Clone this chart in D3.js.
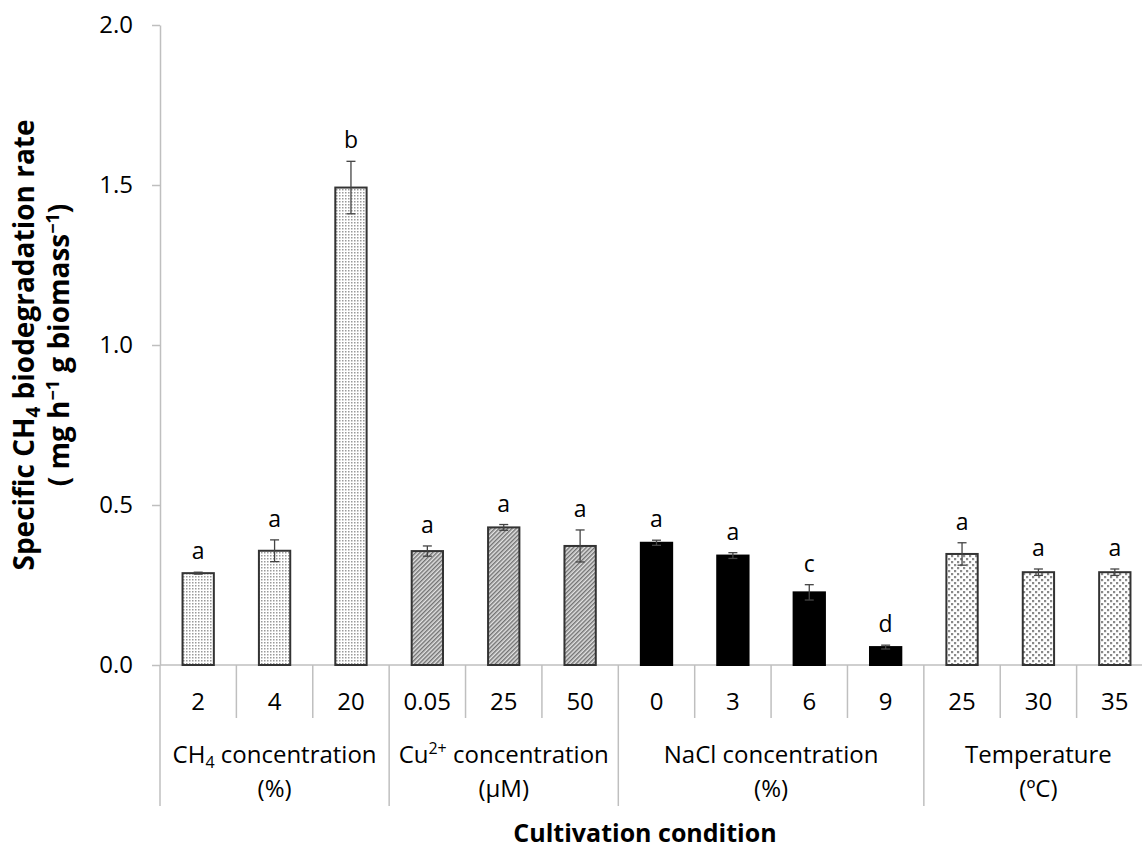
<!DOCTYPE html>
<html>
<head>
<meta charset="utf-8">
<script src="https://cdn.jsdelivr.net/npm/d3@7"></script>
<style>
  body { margin: 0; background: #fff; }
  svg { display: block; font-family: "Open Sans", sans-serif; }
</style>
</head>
<body>
<div id="chart"></div>
<script>
// values
const categories = ["2", "4", "20", "0.05", "25", "50", "0", "3", "6", "9", "25", "30", "35"];
const groupOf = [0, 0, 0, 1, 1, 1, 2, 2, 2, 2, 3, 3, 3];
const groupNames = [
    [["CH", "4", "sub", " concentration"], ["(%)"]],
    [["Cu", "2+", "sup", " concentration"], ["(μM)"]],
    [["NaCl concentration"], ["(%)"]],
    [["Temperature"], ["(ºC)"]]
];
const rates = [0.287, 0.357, 1.492, 0.356, 0.430, 0.372, 0.382, 0.342, 0.227, 0.056, 0.347, 0.290, 0.290];
const errors = [0.003, 0.034, 0.082, 0.016, 0.009, 0.050, 0.008, 0.009, 0.024, 0.006, 0.035, 0.010, 0.010];
const letters = ["a", "a", "b", "a", "a", "a", "a", "a", "c", "d", "a", "a", "a"];
const yTicks = [0, 0.5, 1.0, 1.5, 2.0];

const width = 1142, height = 851;
const plotLeft = 160, plotRight = 1153, plotTop = 25, plotBottom = 665;

const svg = d3.select("#chart").append("svg")
    .attr("width", width)
    .attr("height", height);

// fill patterns, one per group
const defs = svg.append("defs");

let p = defs.append("pattern").attr("id", "fine-dots")
    .attr("patternUnits", "userSpaceOnUse").attr("width", 3).attr("height", 3);
p.append("rect").attr("width", 3).attr("height", 3).attr("fill", "#fff");
p.append("rect").attr("width", 1.5).attr("height", 1.5).attr("fill", "#9a9a9a");

p = defs.append("pattern").attr("id", "hatch")
    .attr("patternUnits", "userSpaceOnUse").attr("width", 3).attr("height", 3)
    .attr("patternTransform", "rotate(45)");
p.append("rect").attr("width", 3).attr("height", 3).attr("fill", "#e2e2e2");
p.append("line").attr("x1", 0.75).attr("x2", 0.75).attr("y1", 0).attr("y2", 3)
    .attr("stroke", "#666").attr("stroke-width", 1.3);

p = defs.append("pattern").attr("id", "big-dots")
    .attr("patternUnits", "userSpaceOnUse").attr("width", 6).attr("height", 6);
p.append("rect").attr("width", 6).attr("height", 6).attr("fill", "#fff");
p.append("rect").attr("x", 0).attr("y", 0).attr("width", 2.2).attr("height", 2.2).attr("fill", "#8a8a8a");
p.append("rect").attr("x", 3).attr("y", 3).attr("width", 2.2).attr("height", 2.2).attr("fill", "#8a8a8a");

const groupFill = ["url(#fine-dots)", "url(#hatch)", "#000", "url(#big-dots)"];

const x = d3.scaleBand()
    .domain(d3.range(categories.length))
    .range([plotLeft, plotRight]);

const y = d3.scaleLinear()
    .domain([0, 2])
    .range([plotBottom, plotTop]);

const axisColor = "#bfbfbf";
const mid = i => x(i) + x.bandwidth() / 2;

// y axis
const yAxis = svg.append("g")
    .attr("transform", `translate(${plotLeft},0)`)
    .call(d3.axisLeft(y).tickValues(yTicks).tickFormat(d3.format(".1f"))
        .tickSize(8).tickSizeOuter(0).tickPadding(19));
yAxis.select(".domain").attr("stroke", axisColor).attr("stroke-width", 1.5);
yAxis.selectAll(".tick line").attr("stroke", axisColor).attr("stroke-width", 1.5);
yAxis.selectAll(".tick text")
    .attr("fill", "#000")
    .style("font-size", "24px")
    .style("font-family", "'Open Sans', sans-serif");

// x axis line and separators
const xg = svg.append("g");
xg.append("line")
    .attr("x1", plotLeft).attr("x2", plotRight)
    .attr("y1", plotBottom).attr("y2", plotBottom)
    .attr("stroke", axisColor).attr("stroke-width", 1.5);

const bounds = d3.range(categories.length + 1);
xg.selectAll(".sep")
    .data(bounds)
    .enter()
    .append("line")
    .attr("x1", d => plotLeft + d * x.step())
    .attr("x2", d => plotLeft + d * x.step())
    .attr("y1", plotBottom)
    .attr("y2", d => (d === 0 || d === categories.length || groupOf[d] !== groupOf[d - 1]) ? 806 : 718)
    .attr("stroke", axisColor)
    .attr("stroke-width", 1.5);

xg.selectAll(".cat")
    .data(categories)
    .enter()
    .append("text")
    .attr("x", (d, i) => mid(i))
    .attr("y", 710)
    .attr("text-anchor", "middle")
    .style("font-size", "24px")
    .text(d => d);

// group labels
groupNames.forEach((lines, g) => {
    const idx = groupOf.map((v, i) => v === g ? i : -1).filter(i => i >= 0);
    const gx = (x(idx[0]) + x(idx[idx.length - 1]) + x.bandwidth()) / 2;
    lines.forEach((parts, li) => {
        const t = xg.append("text")
            .attr("x", gx)
            .attr("y", 763 + li * 34)
            .attr("text-anchor", "middle")
            .style("font-size", "24px");
        if (parts.length === 1) {
            t.text(parts[0]);
        } else {
            t.append("tspan").text(parts[0]);
            t.append("tspan")
                .attr("dy", parts[2] === "sub" ? 5 : -9)
                .style("font-size", "16px")
                .text(parts[1]);
            t.append("tspan")
                .attr("dy", parts[2] === "sub" ? -5 : 9)
                .text(parts[3]);
        }
    });
});

// bars
const barW = x.bandwidth() * 0.41;
svg.selectAll(".bar")
    .data(rates)
    .enter()
    .append("rect")
    .attr("x", (d, i) => x(i) + (x.bandwidth() - barW) / 2)
    .attr("y", d => y(d))
    .attr("width", barW)
    .attr("height", d => plotBottom - y(d))
    .attr("fill", (d, i) => groupFill[groupOf[i]])
    .attr("stroke", (d, i) => groupOf[i] === 2 ? "#000" : "#333")
    .attr("stroke-width", 2);

// error bars
const eb = svg.selectAll(".err")
    .data(rates)
    .enter()
    .append("g")
    .attr("stroke", "#444")
    .attr("stroke-width", 1.3);
eb.append("line")
    .attr("x1", (d, i) => mid(i)).attr("x2", (d, i) => mid(i))
    .attr("y1", (d, i) => y(d + errors[i]))
    .attr("y2", (d, i) => y(d - errors[i]));
eb.append("line")
    .attr("x1", (d, i) => mid(i) - 4.5).attr("x2", (d, i) => mid(i) + 4.5)
    .attr("y1", (d, i) => y(d + errors[i]))
    .attr("y2", (d, i) => y(d + errors[i]));
eb.append("line")
    .attr("x1", (d, i) => mid(i) - 4.5).attr("x2", (d, i) => mid(i) + 4.5)
    .attr("y1", (d, i) => y(d - errors[i]))
    .attr("y2", (d, i) => y(d - errors[i]));

// significance letters
svg.selectAll(".letter")
    .data(letters)
    .enter()
    .append("text")
    .attr("x", (d, i) => mid(i))
    .attr("y", (d, i) => y(rates[i] + errors[i]) - 13)
    .attr("text-anchor", "middle")
    .style("font-size", "23px")
    .text(d => d);

// axis titles
const yt = svg.append("text")
    .attr("transform", `translate(0,${(plotTop + plotBottom) / 2}) rotate(-90)`)
    .attr("text-anchor", "middle")
    .style("font-size", "28px")
    .style("font-weight", "bold");
const l1 = yt.append("tspan").attr("x", 0).attr("y", 34);
l1.append("tspan").text("Specific CH");
l1.append("tspan").attr("dy", 6).style("font-size", "19px").text("4");
l1.append("tspan").attr("dy", -6).text(" biodegradation rate");
const l2 = yt.append("tspan").attr("x", 0).attr("y", 69);
l2.append("tspan").text("( mg h");
l2.append("tspan").attr("dy", -10).style("font-size", "18px").text("−1");
l2.append("tspan").attr("dy", 10).text(" g biomass");
l2.append("tspan").attr("dy", -10).style("font-size", "18px").text("−1");
l2.append("tspan").attr("dy", 10).text(")");

svg.append("text")
    .attr("x", 645)
    .attr("y", 842)
    .attr("text-anchor", "middle")
    .style("font-size", "25px")
    .style("font-weight", "bold")
    .text("Cultivation condition");
</script>
</body>
</html>
